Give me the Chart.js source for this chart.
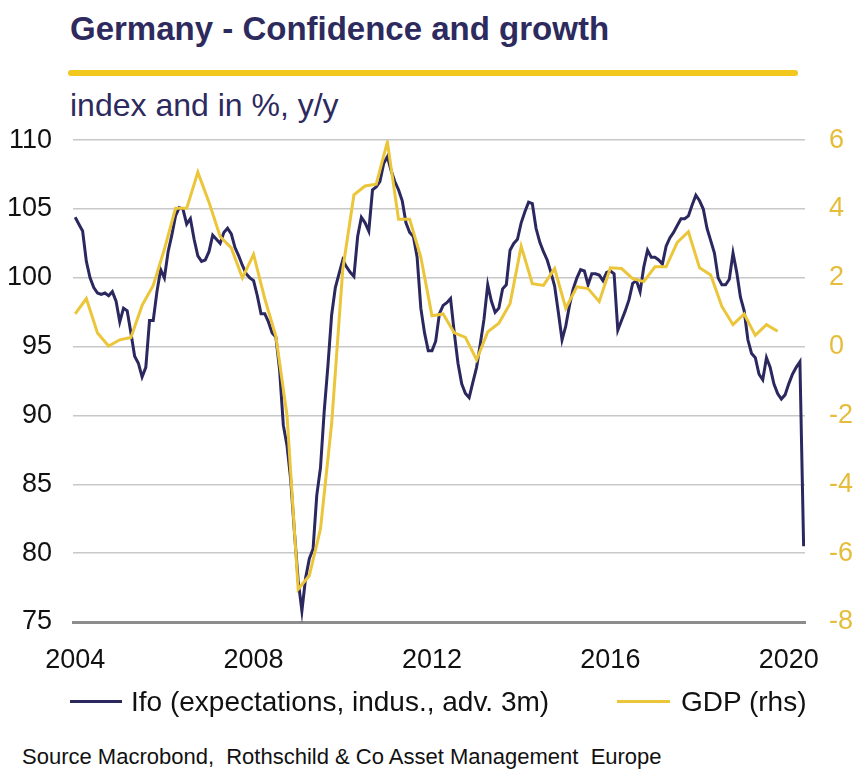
<!DOCTYPE html>
<html>
<head>
<meta charset="utf-8">
<title>Germany - Confidence and growth</title>
<script src="https://cdn.jsdelivr.net/npm/chart.js"></script>
<style>
    body { margin: 0; background: #fff; }
    #page { position: relative; width: 864px; height: 773px; overflow: hidden;
            font-family: "Liberation Sans", Arial, sans-serif; }
    #title { position: absolute; left: 70px; top: 12px; font-size: 33px; line-height: 33px;
             font-weight: bold; color: #2d2a5e; white-space: nowrap; }
    #rule { position: absolute; left: 68px; top: 70px; width: 730px; height: 6px;
            background: #f2c81e; border-radius: 3px; }
    #subtitle { position: absolute; left: 70px; top: 89px; font-size: 32px; line-height: 32px;
                color: #2d2a5e; white-space: nowrap; }
    #chartBox { position: absolute; left: 0; top: 100px; width: 864px; height: 590px; }
    .legend { position: absolute; top: 686px; font-size: 28px; line-height: 32px;
              color: #111; white-space: nowrap; }
    .swatch { position: absolute; top: 700px; height: 3px; }
    #source { position: absolute; left: 22px; top: 745px; font-size: 22px; line-height: 24px;
              color: #111; white-space: nowrap; }
</style>
</head>
<body>
<div id="page">
    <div id="title">Germany - Confidence and growth</div>
    <div id="rule"></div>
    <div id="subtitle">index and in %, y/y</div>
    <div id="chartBox"><canvas id="growthChart"></canvas></div>
    <div class="swatch" style="left:70px; width:52px; background:#2a285f;"></div>
    <div class="legend" style="left:131px;">Ifo (expectations, indus., adv. 3m)</div>
    <div class="swatch" style="left:617px; width:53px; background:#ebc53a;"></div>
    <div class="legend" style="left:681px;">GDP (rhs)</div>
    <div id="source">Source Macrobond,&nbsp; Rothschild &amp; Co Asset Management&nbsp; Europe</div>
</div>

<script>
    // Ifo expectations (industry, advanced 3m), monthly from Jan 2004
    var ifoStart = 2004;
    var ifoValues = [
        104.4, 103.9, 103.4, 101.2, 100.0, 99.3, 98.9, 98.8, 98.9, 98.7,
        99.0, 98.3, 96.8, 97.8, 97.6, 96.0, 94.3, 93.8, 92.8, 93.5,
        96.9, 96.9, 99.0, 100.6, 100.0, 101.9, 103.1, 104.5, 105.1, 105.0,
        103.9, 104.3, 102.8, 101.6, 101.2, 101.3, 101.9, 103.1, 102.8, 102.5,
        103.3, 103.6, 103.2, 102.2, 101.6, 100.9, 100.3, 100.0, 99.8, 98.7,
        97.4, 97.4, 96.8, 96.0, 95.7, 93.3, 89.3, 87.8, 85.3, 81.5,
        78.0, 75.8, 78.2, 79.6, 80.3, 84.2, 86.2, 90.3, 93.6, 97.3,
        99.3, 100.3, 101.3, 100.8, 100.4, 100.1, 103.0, 104.4, 104.0, 103.4,
        106.4, 106.6, 107.0, 108.3, 108.8, 107.8, 107.0, 106.4, 105.6, 104.0,
        103.3, 103.0, 101.5, 97.8, 96.0, 94.7, 94.7, 95.4, 97.4, 98.0,
        98.2, 98.5, 96.0, 93.8, 92.3, 91.6, 91.3, 92.4, 93.5, 95.2,
        97.0, 99.5, 98.3, 97.5, 97.8, 99.2, 99.5, 102.0, 102.5, 102.8,
        104.0, 104.8, 105.5, 105.4, 103.6, 102.6, 101.9, 101.3, 100.4, 99.4,
        97.5, 95.5, 96.5, 98.0, 99.2, 100.0, 100.6, 100.5, 99.5, 100.3,
        100.3, 100.2, 99.8, 100.4, 100.5, 100.3, 96.2, 96.9, 97.6, 98.4,
        99.6, 99.8, 99.0, 100.8, 102.0, 101.5, 101.5, 101.3, 101.0, 102.3,
        102.9, 103.3, 103.8, 104.3, 104.3, 104.5, 105.3, 106.0, 105.6, 105.0,
        103.6, 102.7, 101.8, 100.0, 99.5, 99.5, 99.9, 101.8, 100.4, 98.6,
        97.6, 95.5, 94.5, 94.2, 93.0, 92.6, 94.2, 93.5, 92.3, 91.6,
        91.2, 91.5, 92.3, 93.0, 93.5, 93.9, 80.5
    ];

    // GDP, % y/y, quarterly from 2004 Q1
    var gdpStart = 2004;
    var gdpValues = [
        0.95, 1.4, 0.4, 0.02, 0.2, 0.27, 1.2, 1.78, 2.83, 4.02,
        4.02, 5.07, 4.2, 3.2, 2.87, 2.0, 2.68, 1.4, 0.3, -2.0,
        -7.05, -6.65, -5.3, -2.24, 2.25, 4.41, 4.67, 4.72, 5.95, 3.7,
        3.7, 2.6, 0.9, 0.95, 0.4, 0.27, -0.38, 0.43, 0.68, 1.25,
        2.92, 1.83, 1.78, 2.27, 1.12, 1.74, 1.69, 1.31, 2.29, 2.27,
        1.98, 1.89, 2.32, 2.32, 3.03, 3.34, 2.29, 2.08, 1.17, 0.64,
        0.95, 0.33, 0.64, 0.45
    ];

    var yearTicks = [2004, 2008, 2012, 2016, 2020];

    var ifoPoints = ifoValues.map(function(v, i) { return { x: ifoStart + i / 12, y: v }; });
    var gdpPoints = gdpValues.map(function(v, i) { return { x: gdpStart + i / 4, y: v }; });

    var tickFont = { family: '"Liberation Sans", Arial, sans-serif', size: 27 };

    var ctx = document.getElementById('growthChart').getContext('2d');
    var growthChart = new Chart(ctx, {
        type: 'line',
        data: {
            datasets: [{
                label: 'GDP (rhs)',
                data: gdpPoints,
                yAxisID: 'y1',
                borderColor: '#ebc53a',
                borderWidth: 3,
                pointRadius: 0,
                order: 0
            }, {
                label: 'Ifo (expectations, indus., adv. 3m)',
                data: ifoPoints,
                yAxisID: 'y',
                borderColor: '#2a285f',
                borderWidth: 3,
                pointRadius: 0,
                order: 1
            }]
        },
        options: {
            responsive: true,
            maintainAspectRatio: false,
            animation: false,
            layout: { padding: { top: 33, left: 0, right: 0, bottom: 0 } },
            plugins: { legend: { display: false }, tooltip: { enabled: false } },
            scales: {
                x: {
                    type: 'linear',
                    min: 2003.951,
                    max: 2020.364,
                    afterBuildTicks: function(scale) {
                        scale.ticks = yearTicks.map(function(v) { return { value: v }; });
                    },
                    afterFit: function(scale) { scale.height = 68; },
                    grid: { display: false },
                    border: { display: true, color: '#8c8c8c', width: 3 },
                    ticks: {
                        color: '#111',
                        font: tickFont,
                        padding: 14,
                        maxRotation: 0,
                        autoSkip: false,
                        callback: function(value) { return String(value); }
                    }
                },
                y: {
                    position: 'left',
                    min: 75,
                    max: 110,
                    afterFit: function(scale) { scale.width = 73; },
                    border: { display: false },
                    grid: {
                        color: function(c) { return c.tick.value === 75 ? 'rgba(0,0,0,0)' : '#c8c8c8'; },
                        lineWidth: 1.5,
                        drawTicks: false
                    },
                    ticks: { stepSize: 5, color: '#111', font: tickFont, padding: 21 }
                },
                y1: {
                    position: 'right',
                    min: -8,
                    max: 6,
                    afterFit: function(scale) { scale.width = 59; },
                    border: { display: false },
                    grid: { drawOnChartArea: false, drawTicks: false },
                    ticks: { stepSize: 2, color: '#e5bd3a', font: tickFont, padding: 24 }
                }
            }
        }
    });
</script>
</body>
</html>
